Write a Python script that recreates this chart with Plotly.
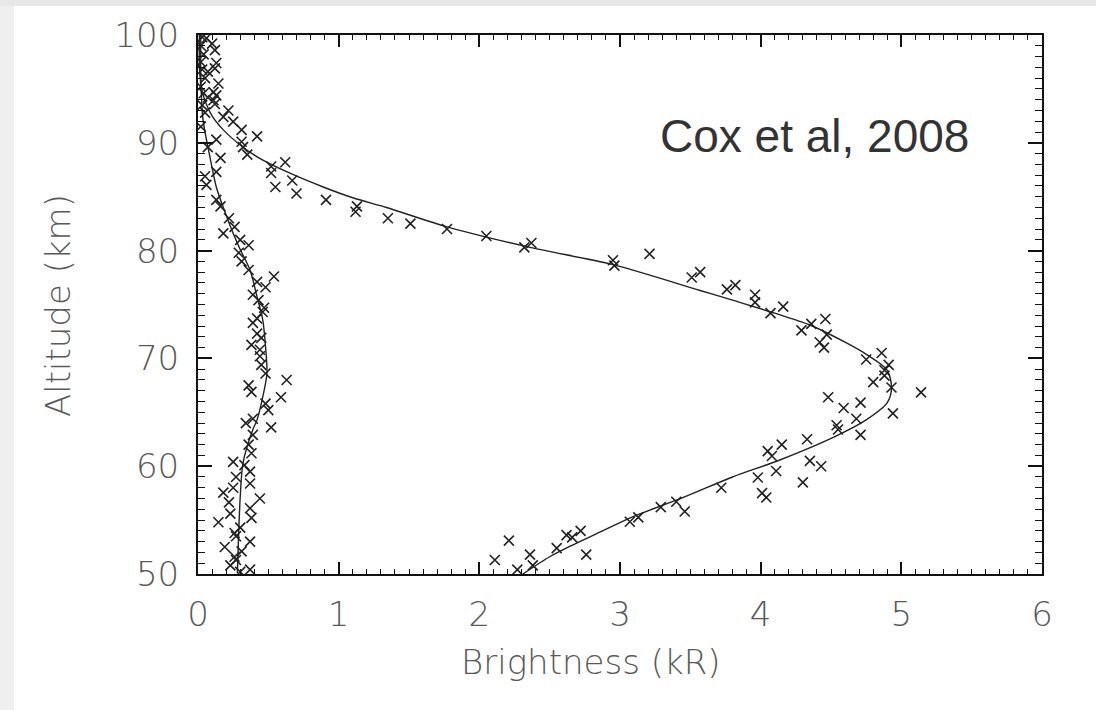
import plotly.graph_objects as go

# ---------------- data ----------------
# fitted profiles (brightness kR, altitude km)
upper_fit_x = [0.01, 0.01, 0.02, 0.04, 0.10, 0.18, 0.30, 0.42, 0.65, 0.89, 1.10, 1.34, 1.77, 2.36, 2.95, 3.57,
               3.80, 4.10, 4.35, 4.60, 4.76, 4.90, 4.93, 4.90, 4.75, 4.52, 4.14, 3.80, 3.45, 3.09, 2.86, 2.65,
               2.50, 2.31]
upper_fit_y = [100.0, 97.0, 95.5, 94.3, 92.5, 91.2, 89.8, 88.7, 87.2, 85.9, 84.9, 84.0, 82.2, 80.3, 78.7, 76.3,
               75.4, 74.2, 73.1, 71.5, 70.3, 68.9, 67.3, 65.9, 64.3, 62.7, 60.6, 59.0, 57.1, 55.3, 53.9, 52.6,
               51.6, 50.0]

lower_fit_x = [0.02, 0.02, 0.036, 0.08, 0.13, 0.18, 0.25, 0.30, 0.37, 0.42, 0.46, 0.48, 0.49, 0.46, 0.42, 0.39,
               0.32, 0.30, 0.29, 0.28]
lower_fit_y = [100.0, 96.0, 92.1, 89.0, 85.9, 84.0, 81.6, 80.1, 78.2, 75.7, 73.6, 71.1, 68.6, 66.4, 64.3, 63.4,
               60.3, 57.1, 54.1, 50.1]

# measured points, bright layer
upper_pts_x = [0.06, 0.10, 0.12, 0.13, 0.07, 0.12, 0.145, 0.11, 0.13, 0.07, 0.11, 0.12,
               0.216, 0.18, 0.25, 0.31, 0.42, 0.31, 0.32, 0.35, 0.62, 0.52, 0.52, 0.67, 0.55, 0.70, 0.91,
               1.13, 1.12, 1.35, 1.51, 1.77, 2.05, 2.32, 2.37, 2.95, 2.96, 3.21, 3.51, 3.57, 3.76, 3.82,
               3.96, 3.96, 4.07, 4.16, 4.46, 4.36, 4.29, 4.47, 4.42, 4.45, 4.86, 4.75, 4.91, 4.88, 4.88,
               4.80, 4.93, 5.14, 4.48, 4.59, 4.71, 4.94, 4.68, 4.54, 4.55, 4.71, 4.33, 4.15, 4.05, 4.08,
               4.35, 4.43, 4.11, 3.98, 4.30, 4.01, 4.04, 3.72, 3.46, 3.40, 3.29, 3.13, 3.07, 2.72, 2.62,
               2.66, 2.55, 2.76, 2.36, 2.38, 2.27, 2.21, 2.11]
upper_pts_y = [99.7, 99.2, 98.6, 97.4, 96.6, 96.9, 95.5, 94.7, 94.4, 94.2, 93.95, 93.6,
               93.0, 92.4, 91.96, 91.2, 90.6, 90.1, 89.6, 88.9, 88.2, 87.8, 87.2, 86.5, 85.9, 85.3, 84.7,
               84.1, 83.6, 83.0, 82.5, 82.0, 81.35, 80.3, 80.7, 79.1, 78.6, 79.7, 77.5, 78.0, 76.4, 76.8,
               75.9, 75.2, 74.2, 74.8, 73.65, 73.2, 72.6, 72.2, 71.5, 71.0, 70.5, 69.9, 69.4, 68.9, 68.4,
               67.8, 67.3, 66.85, 66.4, 65.4, 65.9, 64.9, 64.4, 63.8, 63.4, 62.9, 62.5, 62.0, 61.4, 60.95,
               60.5, 60.0, 59.55, 58.95, 58.5, 57.5, 57.1, 58.0, 55.8, 56.7, 56.2, 55.25, 54.85, 54.0, 53.6,
               53.4, 52.4, 51.8, 51.8, 50.8, 50.4, 53.1, 51.3]

# measured points, faint layer
lower_pts_x = [0.03, 0.02, 0.04, 0.02, 0.03, 0.05, 0.02, 0.04, 0.03, 0.05, 0.02,
               0.13, 0.07, 0.16, 0.13, 0.05, 0.06, 0.13, 0.16, 0.22, 0.26, 0.18, 0.30, 0.36, 0.29, 0.31,
               0.36, 0.54, 0.42, 0.48, 0.39, 0.43, 0.47, 0.46, 0.42, 0.39, 0.42, 0.45, 0.38, 0.44, 0.44,
               0.45, 0.48, 0.63, 0.36, 0.38, 0.59, 0.48, 0.50, 0.39, 0.34, 0.52, 0.39, 0.36, 0.38, 0.25,
               0.33, 0.37, 0.27, 0.37, 0.25, 0.18, 0.44, 0.22, 0.37, 0.23, 0.38, 0.145, 0.30, 0.26, 0.27,
               0.19, 0.37, 0.31, 0.26, 0.27, 0.23, 0.30, 0.37]
lower_pts_y = [99.8, 99.0, 98.2, 97.5, 96.8, 96.0, 95.2, 94.6, 93.5, 92.8, 91.5,
               90.3, 89.6, 88.6, 87.3, 86.9, 86.1, 84.7, 84.1, 83.0, 82.2, 81.6, 81.0, 80.5, 79.8, 79.0,
               78.2, 77.6, 77.1, 76.6, 75.9, 75.4, 74.7, 74.3, 73.7, 73.3, 72.3, 71.9, 71.25, 70.8, 70.2,
               69.4, 68.6, 68.0, 67.5, 66.9, 66.4, 65.8, 65.2, 64.4, 64.0, 63.6, 62.9, 62.0, 61.2, 60.4,
               60.1, 59.5, 59.0, 58.4, 58.0, 57.55, 57.0, 56.65, 56.1, 55.6, 55.2, 54.8, 54.3, 53.8, 53.5,
               52.5, 53.0, 52.1, 51.6, 51.3, 50.8, 50.2, 50.4]

x_tickvals = [0, 1, 2, 3, 4, 5, 6]
y_tickvals = [50, 60, 70, 80, 90, 100]

TICK_FONT = dict(family="DejaVu Sans", size=34, color="#5a5a5a", weight=200)
TITLE_FONT = dict(family="DejaVu Sans", size=34, color="#5a5a5a", weight=200)

fig = go.Figure()

marker_style = dict(symbol="x-thin", size=10, color="#222222", line=dict(width=1.6, color="#222222"))

fig.add_trace(go.Scatter(x=upper_pts_x, y=upper_pts_y, mode="markers", marker=marker_style,
                         showlegend=False, name="bright"))
fig.add_trace(go.Scatter(x=lower_pts_x, y=lower_pts_y, mode="markers", marker=marker_style,
                         showlegend=False, name="faint"))
fig.add_trace(go.Scatter(x=upper_fit_x, y=upper_fit_y, mode="lines",
                         line=dict(color="#222222", width=1.4, shape="spline", smoothing=0.8),
                         showlegend=False))
fig.add_trace(go.Scatter(x=lower_fit_x, y=lower_fit_y, mode="lines",
                         line=dict(color="#222222", width=1.4, shape="spline", smoothing=0.8),
                         showlegend=False))

axis_common = dict(
    showgrid=False, zeroline=False, showline=True, linecolor="#111111", linewidth=2,
    mirror="ticks", ticks="inside", tickcolor="#111111", tickwidth=1.5,
    tickfont=TICK_FONT,
)

fig.update_xaxes(range=[0, 6], tickvals=x_tickvals, ticklen=12, ticklabelstandoff=9,
                 minor=dict(dtick=0.1, ticks="inside", ticklen=5, tickcolor="#111111", tickwidth=1.2),
                 **axis_common)
fig.update_yaxes(range=[50, 100], tickvals=y_tickvals, ticklen=14, ticklabelstandoff=10,
                 minor=dict(dtick=1, ticks="inside", ticklen=7, tickcolor="#111111", tickwidth=1.2),
                 **axis_common)

L, R, T, B = 198, 54, 35, 136
W, H = 1096, 710
pw, ph = W - L - R, H - T - B


def px(x):
    return (x - L) / pw


def py(y):
    return (H - B - y) / ph


fig.add_annotation(text="Brightness (kR)", xref="paper", yref="paper", x=px(591), y=py(662),
                   xanchor="center", yanchor="middle", showarrow=False, font=TITLE_FONT)
fig.add_annotation(text="Altitude (km)", xref="paper", yref="paper", x=px(58), y=py(306),
                   xanchor="center", yanchor="middle", showarrow=False, textangle=-90, font=TITLE_FONT)
fig.add_annotation(text="Cox et al, 2008", xref="paper", yref="paper", x=px(814), y=py(136),
                   xanchor="center", yanchor="middle", showarrow=False,
                   font=dict(family="Liberation Sans", size=46, color="#333333"))

# grey frame strips around the slide
fig.add_shape(type="rect", xref="paper", yref="paper", x0=px(0), x1=px(14), y0=py(H), y1=py(0),
              fillcolor="#efefef", line=dict(width=0), layer="below")
fig.add_shape(type="rect", xref="paper", yref="paper", x0=px(0), x1=px(W), y0=py(6), y1=py(0),
              fillcolor="#e8e8e8", line=dict(width=0), layer="below")

fig.update_layout(
    width=W, height=H,
    margin=dict(l=L, r=R, t=T, b=B),
    paper_bgcolor="white", plot_bgcolor="white",
    showlegend=False,
)

fig.write_html("out.html")
